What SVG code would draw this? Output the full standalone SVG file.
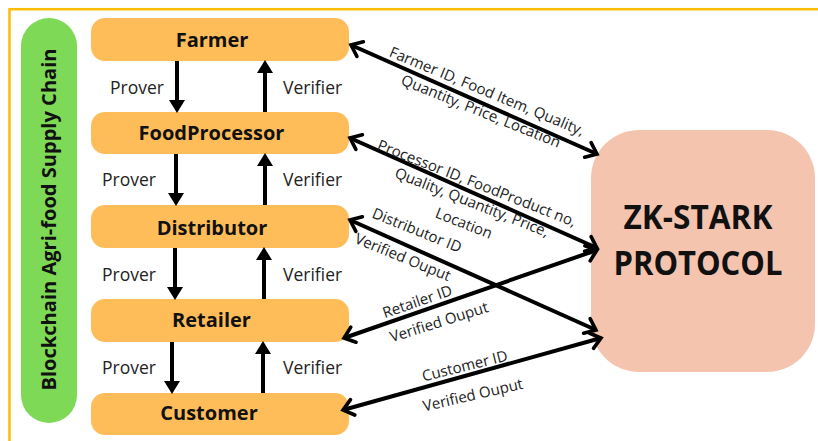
<svg xmlns="http://www.w3.org/2000/svg" width="818" height="441" viewBox="0 0 818 441">
<style>
.node{fill:#FFBD59}
.nlabel{font-family:"Open Sans","Liberation Sans",sans-serif;font-weight:700;font-size:20px;fill:#111;text-anchor:middle}
.role{font-family:"Open Sans","Liberation Sans",sans-serif;font-size:17.5px;fill:#222}
.lbl{font-family:"Open Sans","Liberation Sans",sans-serif;font-size:15px;fill:#222;text-anchor:middle}
.vline{stroke:#000;stroke-width:4;fill:none;marker-end:url(#tri)}
.dline{stroke:#000;stroke-width:4;fill:none;marker-start:url(#chev);marker-end:url(#chev)}
</style>
<defs>
<marker id="tri" markerUnits="userSpaceOnUse" viewBox="0 0 13 16" refX="4" refY="8" markerWidth="13" markerHeight="16" orient="auto" overflow="visible">
<path d="M0,0 L13,8 L0,16 Z" fill="#000"/>
</marker>
<marker id="chev" markerUnits="userSpaceOnUse" viewBox="0 0 12 18" refX="11" refY="9" markerWidth="12" markerHeight="18" orient="auto-start-reverse" overflow="visible">
<path d="M1,1 L11,9 L1,17" fill="none" stroke="#000" stroke-width="3.6" stroke-linecap="round" stroke-linejoin="miter"/>
</marker>
</defs>
<rect x="0" y="0" width="818" height="441" fill="#fff"/>
<rect id="frame" x="9.5" y="9.2" width="830" height="450" fill="none" stroke="#FBBC05" stroke-width="2.5"/>

<g id="chain-label">
<rect x="21" y="18" width="56" height="405" rx="28" fill="#7ED957"/>
<text transform="translate(56,219.5) rotate(-90)" font-family="'Open Sans','Liberation Sans',sans-serif" font-weight="700" font-size="19.5" fill="#111" text-anchor="middle" textLength="342" lengthAdjust="spacingAndGlyphs">Blockchain Agri-food Supply Chain</text>
</g>

<g id="farmer"><rect class="node" x="91" y="18" width="258" height="43" rx="14"/><text class="nlabel" x="212" y="47">Farmer</text></g>
<g id="foodprocessor"><rect class="node" x="91" y="112" width="258" height="42" rx="14"/><text class="nlabel" x="211.5" y="140">FoodProcessor</text></g>
<g id="distributor"><rect class="node" x="91" y="205" width="258" height="43" rx="14"/><text class="nlabel" x="212" y="235">Distributor</text></g>
<g id="retailer"><rect class="node" x="91" y="299" width="258" height="43" rx="14"/><text class="nlabel" x="211.5" y="327">Retailer</text></g>
<g id="customer"><rect class="node" x="91" y="393" width="258" height="42" rx="14"/><text class="nlabel" x="209" y="420">Customer</text></g>

<g id="zkstark">
<rect x="591" y="130" width="224" height="242" rx="48" fill="#F5C4AE"/>
<text x="698" y="229" font-family="'Open Sans','Liberation Sans',sans-serif" font-weight="700" font-size="34" fill="#111" text-anchor="middle" textLength="149" lengthAdjust="spacingAndGlyphs">ZK-STARK</text>
<text x="698" y="275" font-family="'Open Sans','Liberation Sans',sans-serif" font-weight="700" font-size="34" fill="#111" text-anchor="middle" textLength="169" lengthAdjust="spacingAndGlyphs">PROTOCOL</text>
</g>

<g id="connectors">
<line class="vline" x1="177" y1="61" x2="177" y2="104"/>
<line class="vline" x1="265" y1="112" x2="265" y2="69"/>
<line class="vline" x1="176" y1="154" x2="176" y2="197"/>
<line class="vline" x1="265" y1="205" x2="265" y2="162"/>
<line class="vline" x1="175" y1="248" x2="175" y2="291"/>
<line class="vline" x1="264" y1="299" x2="264" y2="256"/>
<line class="vline" x1="172" y1="342" x2="172" y2="385"/>
<line class="vline" x1="263" y1="393" x2="263" y2="350"/>

<line class="dline" x1="351" y1="45" x2="597" y2="154"/>
<line class="dline" x1="350" y1="138" x2="597" y2="248"/>
<line class="dline" x1="350" y1="220" x2="596" y2="330"/>
<line class="dline" x1="344" y1="338" x2="597" y2="250"/>
<line class="dline" x1="343" y1="410" x2="601" y2="338"/>

<text class="role" x="110" y="94">Prover</text>
<text class="role" x="283" y="94">Verifier</text>
<text class="role" x="102" y="186">Prover</text>
<text class="role" x="283" y="186">Verifier</text>
<text class="role" x="102" y="281">Prover</text>
<text class="role" x="283" y="281">Verifier</text>
<text class="role" x="102" y="374">Prover</text>
<text class="role" x="283" y="374">Verifier</text>

<text class="lbl" transform="translate(485,96) rotate(22.5)">Farmer ID, Food Item, Quality,</text>
<text class="lbl" transform="translate(479,116) rotate(22)">Quantity, Price, Location</text>
<text class="lbl" transform="translate(475,188) rotate(21.5)">Processor ID, FoodProduct no,</text>
<text class="lbl" transform="translate(470,207) rotate(21.5)">Quality, Quantity, Price,</text>
<text class="lbl" transform="translate(462,228) rotate(21.5)">Location</text>
<text class="lbl" transform="translate(415,235) rotate(22)">Distributor ID</text>
<text class="lbl" transform="translate(401,262) rotate(22.3)">Verified Ouput</text>
<text class="lbl" transform="translate(419,306.5) rotate(-19)">Retailer ID</text>
<text class="lbl" transform="translate(440.5,327) rotate(-17.5)">Verified Ouput</text>
<text class="lbl" transform="translate(466,371) rotate(-14)">Customer ID</text>
<text class="lbl" transform="translate(474,400) rotate(-13)">Verified Ouput</text>
</g>
</svg>
